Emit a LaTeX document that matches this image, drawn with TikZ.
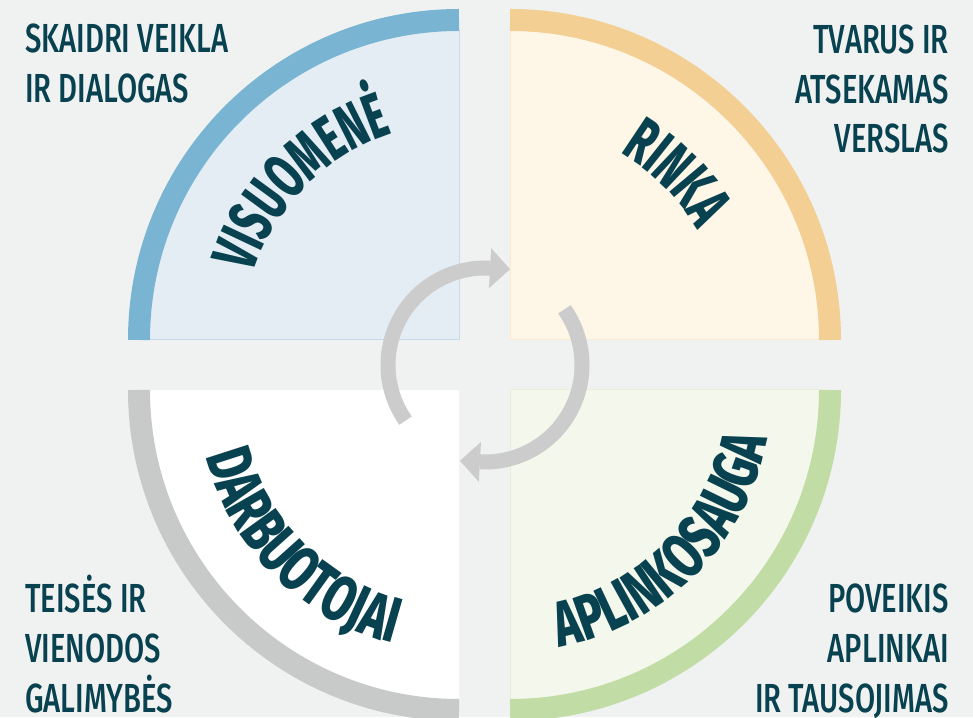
\documentclass[tikz,border=0pt]{standalone}
\usepackage{fontspec}
\usetikzlibrary{decorations.text,calc}
\newfontfamily\cornerfont[FakeStretch=0.72]{Fira Sans Medium}
\newfontfamily\titletopfam[FakeStretch=0.61]{Fira Sans ExtraBold}
\newfontfamily\titlebotfam[FakeStretch=0.69]{Fira Sans ExtraBold}
\newcommand\ttopfmt{\titletopfam\fontsize{64pt}{64pt}\selectfont}
\newcommand\tbotfmt{\titlebotfam\fontsize{64pt}{64pt}\selectfont}
\definecolor{bgcol}{HTML}{F0F2F1}
\definecolor{txtcol}{HTML}{08414F}
\definecolor{tlfill}{HTML}{E4EDF4}
\definecolor{tlarc}{HTML}{79B5D2}
\definecolor{tlline}{HTML}{C6DAEA}
\definecolor{trfill}{HTML}{FEF6E7}
\definecolor{trarc}{HTML}{F3CF94}
\definecolor{trline}{HTML}{FBEAD0}
\definecolor{blfill}{HTML}{FFFFFF}
\definecolor{blarc}{HTML}{C8CAC9}
\definecolor{brfill}{HTML}{F4F8EC}
\definecolor{brarc}{HTML}{C2DCA6}
\definecolor{brline}{HTML}{E6EFD8}
\definecolor{arrcol}{HTML}{CBCCCB}
\tikzset{
  cornertext/.style={inner sep=0pt, text=txtcol, font=\cornerfont\fontsize{40.6pt}{50pt}\selectfont},
  ringarc/.style={line width=22pt, line cap=butt},
  cyclearc/.style={draw=arrcol, line width=15pt, line cap=butt},
  cyclehead/.style={fill=arrcol},
}
\begin{document}
\begin{tikzpicture}[x=1pt,y=1pt]
\useasboundingbox (0,0) rectangle (973,717);
\fill[bgcol] (0,0) rectangle (973,717);
\coordinate (TL) at (459,377);
\coordinate (TR) at (510,377);
\coordinate (BL) at (459,327);
\coordinate (BR) at (510,327);
\coordinate (AC) at (485,352);
% quadrant fills
\fill[tlfill] (TL) -- ($(TL)+(180:310pt)$) arc[start angle=180,end angle=90,radius=310pt] -- cycle;
\draw[tlline, line width=1pt] ($(TL)+(180:310pt)$) -- (TL) -- ($(TL)+(90:310pt)$);
\fill[trfill] (TR) -- ($(TR)+(90:310pt)$) arc[start angle=90,end angle=0,radius=310pt] -- cycle;
\draw[trline, line width=1pt] ($(TR)+(90:310pt)$) -- (TR) -- ($(TR)+(0:310pt)$);
\fill[blfill] (BL) -- ($(BL)+(180:310pt)$) arc[start angle=180,end angle=270,radius=310pt] -- cycle;
\fill[brfill] (BR) -- ($(BR)+(270:310pt)$) arc[start angle=270,end angle=360,radius=310pt] -- cycle;
\draw[brline, line width=1pt] ($(BR)+(270:310pt)$) -- (BR) -- ($(BR)+(0:310pt)$);
% outer arcs
\draw[ringarc, tlarc] ($(TL)+(180:320pt)$) arc[start angle=180,end angle=90,radius=320pt];
\draw[ringarc, trarc] ($(TR)+(90:320pt)$) arc[start angle=90,end angle=0,radius=320pt];
\draw[ringarc, blarc] ($(BL)+(180:320pt)$) arc[start angle=180,end angle=270,radius=320pt];
\draw[ringarc, brarc] ($(BR)+(270:320pt)$) arc[start angle=270,end angle=360,radius=320pt];
% curved titles
\path[decorate, decoration={text along path, text color=txtcol, text align=center, text={|\ttopfmt|VISUOMENĖ}}]
  ($(TL)+(180:217pt)$) arc[start angle=180,end angle=90,radius=217pt];
\path[decorate, decoration={text along path, text color=txtcol, text align=center, text={|\ttopfmt|RINKA}}]
  ($(TR)+(90:217pt)$) arc[start angle=90,end angle=0,radius=217pt];
\path[decorate, decoration={text along path, text color=txtcol, text align=center, text={|\tbotfmt|DARBUOTOJAI}}]
  ($(BL)+(180:262pt)$) arc[start angle=180,end angle=270,radius=262pt];
\path[decorate, decoration={text along path, text color=txtcol, text align=center, text={|\tbotfmt|APLINKOSAUGA}}]
  ($(BR)+(270:262pt)$) arc[start angle=270,end angle=360,radius=262pt];
% cycle arrows
\draw[cyclearc] ($(AC)+(215:97pt)$) arc[start angle=215,end angle=87,radius=97pt];
\fill[cyclehead] ($(AC)+(87:77pt)$) -- ($(AC)+(87:117pt)$) -- ($(AC)+(87:97pt)+(-3:20pt)$) -- cycle;
\draw[cyclearc] ($(AC)+(35:97pt)$) arc[start angle=35,end angle=-93,radius=97pt];
\fill[cyclehead] ($(AC)+(-93:77pt)$) -- ($(AC)+(-93:117pt)$) -- ($(AC)+(-93:97pt)+(-183:20pt)$) -- cycle;
% corner texts
\node[cornertext, anchor=base west] (tl1) at (25,664) {SKAIDRI VEIKLA};
\node[cornertext, anchor=base west] (tl2) at (25,614) {IR DIALOGAS};
\node[cornertext, anchor=base east] (tr1) at (949,663) {TVARUS IR};
\node[cornertext, anchor=base east] (tr2) at (949,613) {ATSEKAMAS};
\node[cornertext, anchor=base east] (tr3) at (949,564) {VERSLAS};
\node[cornertext, anchor=base west] (bl1) at (25,105) {TEISĖS IR};
\node[cornertext, anchor=base west] (bl2) at (25,55) {VIENODOS};
\node[cornertext, anchor=base west] (bl3) at (25,5) {GALIMYBĖS};
\node[cornertext, anchor=base east] (br1) at (949,105) {POVEIKIS};
\node[cornertext, anchor=base east] (br2) at (949,55) {APLINKAI};
\node[cornertext, anchor=base east] (br3) at (949,5) {IR TAUSOJIMAS};
\end{tikzpicture}
\end{document}
